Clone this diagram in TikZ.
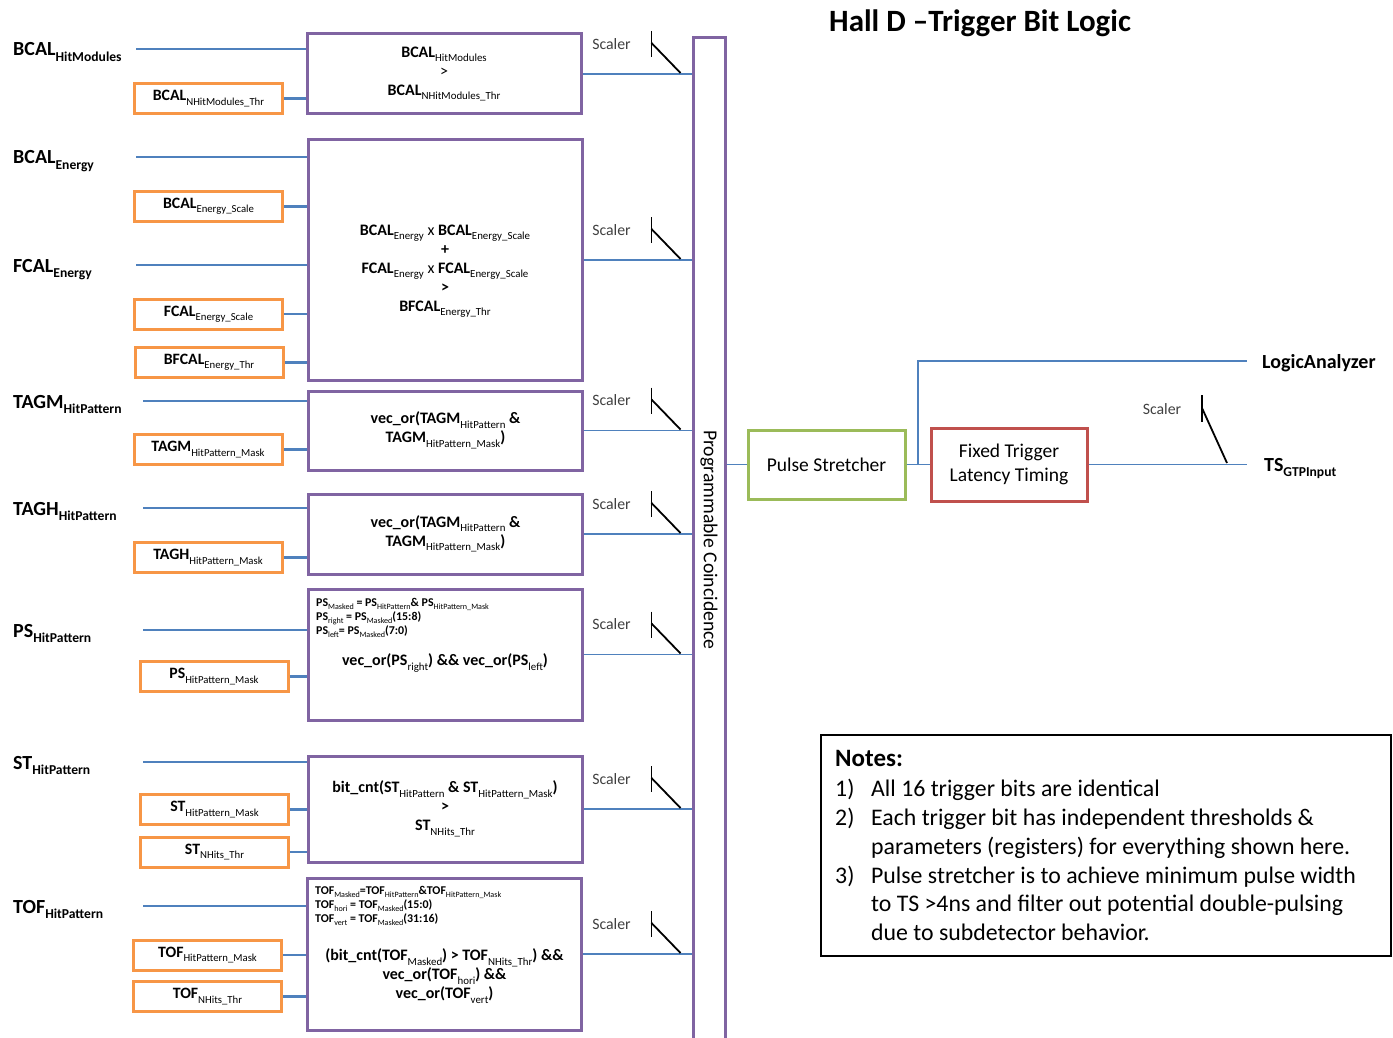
\documentclass[tikz,border=0pt]{standalone}
\usepackage{fontspec}
\setmainfont{Carlito}
\usepackage{tikz}
\usetikzlibrary{calc,positioning}
\definecolor{lineblue}{HTML}{4F81BD}
\definecolor{parmorange}{HTML}{F79646}
\definecolor{logicpurple}{HTML}{8064A2}
\definecolor{stretchgreen}{HTML}{9BBB59}
\definecolor{fixred}{HTML}{C0504D}
\definecolor{scalergray}{HTML}{404040}
\makeatletter
\newcommand{\sub}[1]{\raisebox{-0.28em}{\fontsize{\fpeval{0.68*\f@size}}{1}\selectfont #1}}
\newcommand{\lo}[1]{\raisebox{-0.28em}{\fontsize{\fpeval{0.68*\f@size}}{1}\selectfont\mdseries #1}}
\makeatother

\begin{document}
\begin{tikzpicture}
[x=1pt, y=-1pt,
 sig/.style={draw=lineblue, line width=2.5pt},
 sigthin/.style={draw=lineblue, line width=1.6pt},
 inp/.style={font=\fontsize{20}{24}\selectfont\bfseries, inner sep=0pt, anchor=base west},
 parm/.style={rectangle, draw=parmorange, line width=3pt, minimum width=148pt, minimum height=30pt, inner sep=0pt, font=\fontsize{15.8}{18}\selectfont},
 logic/.style={rectangle, draw=logicpurple, line width=3pt, minimum width=274pt, align=center, inner sep=2pt, font=\fontsize{16}{19}\selectfont\bfseries},
 boxtxt/.style={align=center, inner sep=0pt, font=\fontsize{16}{19}\selectfont\bfseries},
 small/.style={align=left, inner sep=0pt, anchor=north west, font=\fontsize{11.9}{14}\selectfont\bfseries},
 scl/.style={font=\fontsize{15.8}{18}\selectfont, text=scalergray, inner sep=0pt},
 sw/.style={draw=black, line width=1.8pt},
 stage/.style={rectangle, line width=3pt, align=center, font=\fontsize{19.5}{24}\selectfont},]
\useasboundingbox (0,0) rectangle (1393,1038);

% title
\node[font=\fontsize{31}{36}\selectfont\bfseries, anchor=base west, inner sep=0pt] (title) at (829,32) {Hall D –Trigger Bit Logic};

% coincidence bar
\node[draw=logicpurple, line width=3pt, minimum width=32pt, minimum height=1012pt, inner sep=0pt] (pc) at (709,544) {};
\node[rotate=-90, font=\fontsize{19.7}{22}\selectfont, inner sep=0pt] (pctxt) at (709,540) {Programmable Coincidence};

% logic boxes
\node[logic, minimum height=80pt] (lg1) at (444,74) {\textbf{BCAL}\lo{HitModules}\\ \mdseries >\\ \textbf{BCAL}\lo{NHitModules\_Thr}};
\node[logic, minimum height=240pt] (lg2) at (445,260) {};
\node[boxtxt] (t2) at (445,271) {BCAL\lo{Energy} \mdseries x \bfseries BCAL\lo{Energy\_Scale}\\ +\\ FCAL\lo{Energy} \mdseries x \bfseries FCAL\lo{Energy\_Scale}\\ >\\ BFCAL\lo{Energy\_Thr}};
\node[logic, minimum height=79pt] (lg3) at (445.5,430.5) {vec\_or(TAGM\lo{HitPattern} \&\\ TAGM\lo{HitPattern\_Mask})};
\node[logic, minimum height=80pt] (lg4) at (445.5,534) {vec\_or(TAGM\lo{HitPattern} \&\\ TAGM\lo{HitPattern\_Mask})};
\node[logic, minimum height=131pt] (lg5) at (445,654.5) {};
\node[small] (t5a) at (316,598) {PS\lo{Masked} = PS\lo{HitPattern}\& PS\lo{HitPattern\_Mask}\\ PS\lo{right} = PS\lo{Masked}(15:8)\\ PS\lo{left}= PS\lo{Masked}(7:0)};
\node[boxtxt] (t5b) at (445,663) {vec\_or(PS\lo{right}) \&\& vec\_or(PS\lo{left})};
\node[logic, minimum height=106pt] (lg6) at (445,809) {bit\_cnt(ST\lo{HitPattern} \& ST\lo{HitPattern\_Mask})\\ >\\ ST\lo{NHits\_Thr}};
\node[logic, minimum height=152pt] (lg7) at (444.5,954) {};
\node[small] (t7a) at (315,886) {TOF\lo{Masked}=TOF\lo{HitPattern}\&TOF\lo{HitPattern\_Mask}\\ TOF\lo{hori} = TOF\lo{Masked}(15:0)\\ TOF\lo{vert} = TOF\lo{Masked}(31:16)};
\node[boxtxt] (t7b) at (444.5,976) {(bit\_cnt(TOF\lo{Masked}) > TOF\lo{NHits\_Thr}) \&\&\\ vec\_or(TOF\lo{hori}) \&\&\\ vec\_or(TOF\lo{vert})};

% inputs
\foreach \n/\txt/\y/\x/\b in {bhm/BCAL\sub{HitModules}/49/136/lg1, ben/BCAL\sub{Energy}/157/136/lg2,
  fen/FCAL\sub{Energy}/265/136/lg2, tagm/TAGM\sub{HitPattern}/401/143/lg3, tagh/TAGH\sub{HitPattern}/508/143/lg4,
  ps/PS\sub{HitPattern}/630/143/lg5, st/ST\sub{HitPattern}/762/143/lg6, tof/TOF\sub{HitPattern}/906/143/lg7}
{
  \node[inp] (\n) at (13,\y+7) {\txt};
  \coordinate (\n s) at (\x,\y);
  \draw[sig] (\n s) -- (\n s -| \b.west);
}

% parameters (registers)
\foreach \n/\txt/\x/\y/\b in {p1/BCAL\lo{NHitModules\_Thr}/208.5/98.5/lg1, p2/BCAL\lo{Energy\_Scale}/208.5/206.5/lg2,
  p3/FCAL\lo{Energy\_Scale}/208.5/314/lg2, p4/BFCAL\lo{Energy\_Thr}/209/362.5/lg2,
  p5/TAGM\lo{HitPattern\_Mask}/208/449.5/lg3, p6/TAGH\lo{HitPattern\_Mask}/208/557.5/lg4,
  p7/PS\lo{HitPattern\_Mask}/214/676.5/lg5, p8/ST\lo{HitPattern\_Mask}/214.5/809.5/lg6,
  p9/ST\lo{NHits\_Thr}/214.5/852/lg6, p10/TOF\lo{HitPattern\_Mask}/207.5/955/lg7, p11/TOF\lo{NHits\_Thr}/207.5/996.5/lg7}
{
  \node[parm] (\n) at (\x,\y) {\bfseries\txt};
  \draw[sig] (\n.east) -- (\n.east -| \b.west);
}

% outputs with scalers
\foreach \b in {1,...,7}
{
  \draw[sigthin] (lg\b.east) -- (lg\b.east -| pc.west) coordinate (e\b);
  \draw[sw] ($(e\b)+(-40,-43)$) -- ++(0,26);
  \draw[sw] ($(e\b)+(-40,-31)$) -- ($(e\b)+(-11,-1)$);
  \node[scl] (s\b) at ($(e\b)+(-80,-30)$) {Scaler};
}

% output stage
\node[stage, draw=stretchgreen, minimum width=157pt, minimum height=69pt] (pstr) at (826.5,464.5) {Pulse Stretcher};
\node[stage, draw=fixred, minimum width=156pt, minimum height=73pt] (fixlat) at (1009,464.5) {Fixed Trigger\\ Latency Timing};
\draw[sigthin] (pc.east |- pstr.west) -- (pstr.west);
\draw[sigthin] (pstr.east) -- (fixlat.west);
\coordinate (br) at ($(pstr.east)!0.5!(fixlat.west)$);
\coordinate (laend) at (1247,361);
\coordinate (tsend) at (1247,464.5);
\draw[sigthin] (br) |- (laend);
\draw[sigthin] (fixlat.east) -- (tsend);
\node[inp] (la) at (1262,368) {LogicAnalyzer};
\node[inp] (ts) at (1264,471) {TS\sub{GTPInput}};
\draw[sw] (1202,395) -- (1202,422);
\draw[sw] (1202,408) -- (1227,463);
\node[scl] (s8) at (1162,409) {Scaler};

% notes
\node[draw, line width=1.5pt, minimum width=570pt, minimum height=221pt, anchor=north west] (notes) at (820,734) {};
\node[anchor=north west, inner sep=0pt, font=\fontsize{23.8}{28.7}\selectfont] (notetxt) at (835,746)
{\begin{tabular}{@{}p{36pt}@{}l@{}}
\multicolumn{2}{@{}l}{\fontsize{25}{28.7}\selectfont\bfseries Notes:}\\[2pt]
1) & All 16 trigger bits are identical\\
2) & Each trigger bit has independent thresholds \&\\
   & parameters (registers) for everything shown here.\\
3) & Pulse stretcher is to achieve minimum pulse width\\
   & to TS >4ns and filter out potential double-pulsing\\
   & due to subdetector behavior.
\end{tabular}};
\end{tikzpicture}
\end{document}
